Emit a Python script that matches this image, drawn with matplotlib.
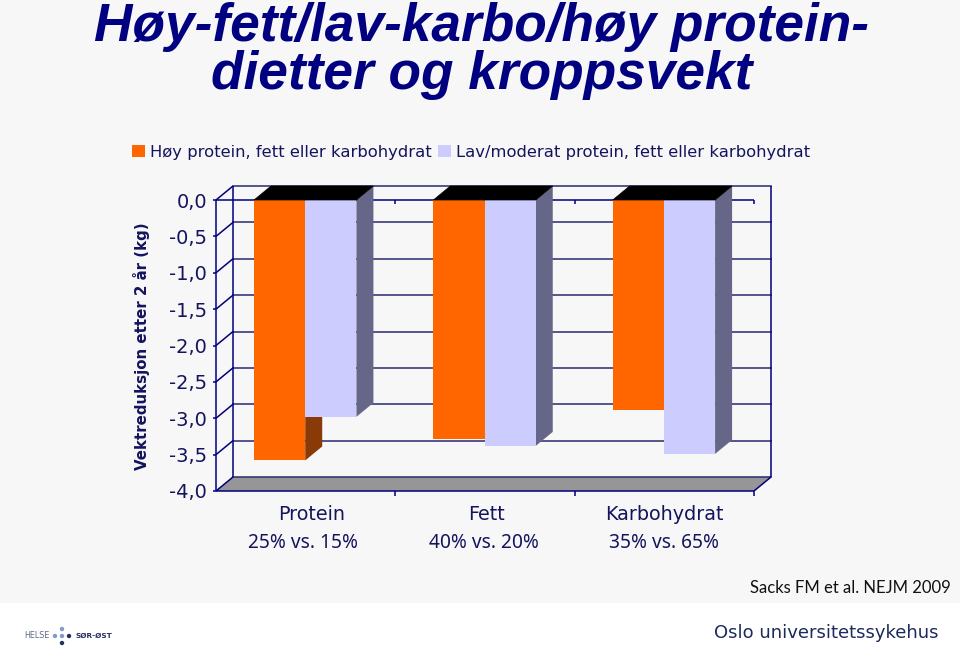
import matplotlib
matplotlib.use("Agg")
import matplotlib.pyplot as plt
from matplotlib.patches import Rectangle, Circle, Polygon

W, H = 960, 646
NAVY = "#000080"
TICKNAVY = "#14145e"

title_lines = ["Høy-fett/lav-karbo/høy protein-", "dietter og kroppsvekt"]
categories = ["Protein", "Fett", "Karbohydrat"]
ratios = ["25% vs. 15%", "40% vs. 20%", "35% vs. 65%"]
series_names = ["Høy protein, fett eller karbohydrat", "Lav/moderat protein, fett eller karbohydrat"]
high_values = [-3.58, -3.29, -2.89]
low_values = [-2.98, -3.38, -3.49]
y_ticks = [0.0, -0.5, -1.0, -1.5, -2.0, -2.5, -3.0, -3.5, -4.0]
y_label = "Vektreduksjon etter 2 år (kg)"
source = "Sacks FM et al. NEJM 2009"
footer = "Oslo universitetssykehus"

fig = plt.figure(figsize=(W / 100, H / 100), dpi=100, facecolor="white")

# page layer in pixel coordinates
bg = fig.add_axes([0, 0, 1, 1])
bg.set_xlim(0, W)
bg.set_ylim(H, 0)
bg.axis("off")
bg.add_patch(Rectangle((0, 0), W, 602.5, fc="#f7f7f7", ec="none"))

bg.text(481, 26.5, title_lines[0], ha="center", va="center", color=NAVY,
        family="Liberation Sans", weight="bold", style="italic", fontsize=38.3)
bg.text(482, 75, title_lines[1], ha="center", va="center", color=NAVY,
        family="Liberation Sans", weight="bold", style="italic", fontsize=38.3)
bg.text(141, 346, y_label, rotation=90, ha="center", va="center", color=TICKNAVY,
        family="DejaVu Sans", weight="bold", fontsize=10.8)
bg.text(850, 588, source, ha="center", va="center", color="#111111",
        family="Lato", fontsize=12.0)
bg.text(826, 633, footer, ha="center", va="center", color="#1c2b5c",
        family="DejaVu Sans", fontsize=13.0)

# logo
bg.text(36.5, 636, "HELSE", ha="center", va="center", color="#5f6b85", family="DejaVu Sans", fontsize=5.8)
bg.text(93.5, 636, "SØR-ØST", ha="center", va="center", color="#26305f", family="DejaVu Sans",
        weight="bold", fontsize=5.3)
for (cx, cy, c, r) in [(62, 629, "#7f9ccc", 2.2), (55, 636, "#7f9ccc", 2.2), (62, 636, "#7f9ccc", 2.2),
                       (69, 636, "#26305f", 2.2), (62, 643, "#26305f", 2.2)]:
    bg.add_patch(Circle((cx, cy), r, fc=c, ec="none"))

# chart: axes rectangle is the front plane of the 3-D box
L, R, T, B = 216, 754, 200, 491
ax = fig.add_axes([L / W, 1 - B / H, (R - L) / W, (B - T) / H])
ax.patch.set_alpha(0)
ax.set_xlim(0, 3)
ax.set_ylim(-4, 0)
for s in ax.spines.values():
    s.set_visible(False)
DX = 17 / ((R - L) / 3)   # depth in category units
DY = 14 / ((B - T) / 4)   # depth in value units

lw = 1.1
kw = dict(color=NAVY, lw=lw, clip_on=False, solid_capstyle="butt")
# floor
ax.add_patch(Polygon([(0, -4), (3, -4), (3 + DX, -4 + DY), (DX, -4 + DY)],
                     fc="#969696", ec="none", clip_on=False, zorder=1))
# back wall + side wall grid
for v in y_ticks:
    ax.plot([DX, 3 + DX], [v + DY, v + DY], zorder=1.5, color="#2a2a70", lw=lw, clip_on=False)
    ax.plot([0, DX], [v, v + DY], zorder=1.5, **kw)
ax.plot([DX, DX], [-4 + DY, DY], zorder=1.5, **kw)
ax.plot([3 + DX, 3 + DX], [-4 + DY, DY], zorder=1.5, **kw)
ax.plot([3, 3 + DX], [-4, -4 + DY], zorder=1.5, **kw)
# front axes
ax.plot([0, 0], [-4, 0], zorder=2, **kw)
ax.plot([0, 3], [-4, -4], zorder=2, **kw)
ax.plot([0, 3], [0, 0], zorder=2, **kw)
for i in range(1, 4):
    ax.plot([i, i], [0, -0.05], zorder=2, **kw)
    ax.plot([i, i], [-4, -4.07], zorder=2, **kw)

ax.set_yticks(y_ticks)
ax.set_yticklabels([f"{v:.1f}".replace(".", ",") for v in y_ticks],
                   fontsize=14, color=TICKNAVY, family="DejaVu Sans")
ax.set_xticks([])
ax.tick_params(axis="y", length=2.2, width=lw, color=NAVY, pad=4.3)

BW = 0.2855
def bar3d(values, off, front, side, z, label):
    for i, v in enumerate(values):
        x0 = i + off
        x1 = x0 + BW
        ax.add_patch(Polygon([(x1, 0), (x1 + DX, DY), (x1 + DX, v + DY), (x1, v)],
                             fc=side, ec="none", zorder=z, clip_on=False))
        ax.add_patch(Polygon([(x0, 0), (x1, 0), (x1 + DX, DY), (x0 + DX, DY)],
                             fc="#000000", ec="#000000", lw=0.5, zorder=z + 2, clip_on=False))
    return ax.bar([i + off for i in range(len(values))], values, width=BW, align="edge",
                  color=front, zorder=z + 0.1, label=label)

h1 = bar3d(high_values, 0.212, "#ff6600", "#8a3a06", 3, series_names[0])
h2 = bar3d(low_values, 0.4975, "#ccccff", "#666688", 4, series_names[1])

for i, (c, r) in enumerate(zip(categories, ratios)):
    bg.text([312, 487, 664][i], 514, c, ha="center", va="center", color=TICKNAVY,
            family="DejaVu Sans", fontsize=13.8)
    bg.text([303, 484, 664][i], 543, r, ha="center", va="center", color=TICKNAVY,
            family="Noto Sans", fontsize=13.8)

leg = fig.legend(handles=[h1, h2], labels=series_names, ncol=2, frameon=False,
                 loc="center left", bbox_to_anchor=(127 / W, 1 - 152 / H),
                 labelcolor=TICKNAVY, handlelength=0.8, handleheight=0.8,
                 handletextpad=0.3, columnspacing=0.4, borderpad=0.3, borderaxespad=0,
                 prop={"family": "DejaVu Sans", "size": 11.8})
fig.savefig("out.png", dpi=100, facecolor=fig.get_facecolor())
